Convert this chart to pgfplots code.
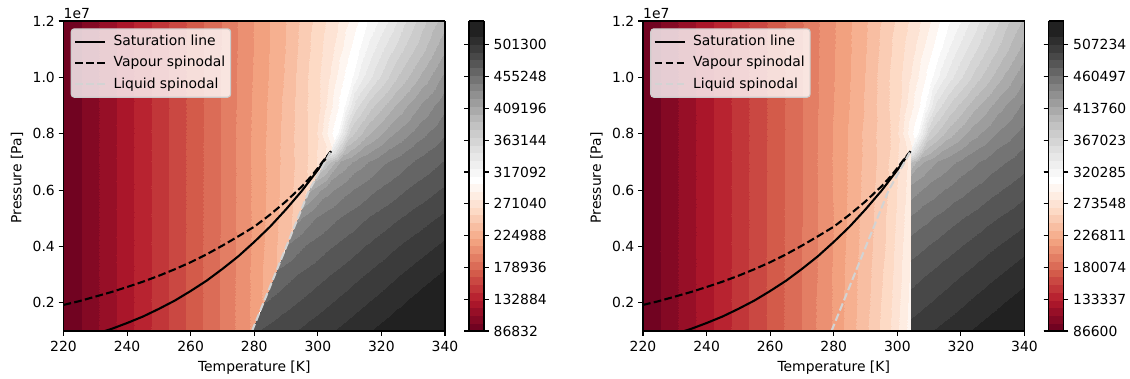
\documentclass[border=0pt]{standalone}
\usepackage{fontspec}
\setmainfont{DejaVu Sans}
\usepackage{pgfplots}
\usepackage{pgfplotstable}
\pgfplotsset{compat=1.18}
\newcommand{\fs}{\fontsize{13.9pt}{16.7pt}\selectfont}
\definecolor{lgray}{RGB}{211,211,211}
\definecolor{legedge}{RGB}{204,204,204}

\pgfplotsset{colormap={rdgy}{
rgb255=(113,3,33) rgb255=(132,9,36) rgb255=(151,15,39) rgb255=(170,22,42)
rgb255=(184,35,48) rgb255=(193,54,57) rgb255=(202,72,66) rgb255=(211,91,74)
rgb255=(219,108,87) rgb255=(227,126,100) rgb255=(235,144,114) rgb255=(242,161,127)
rgb255=(246,176,144) rgb255=(248,190,162) rgb255=(250,204,180) rgb255=(253,218,197)
rgb255=(253,227,212) rgb255=(254,237,226) rgb255=(254,246,241) rgb255=(255,255,255)
rgb255=(247,247,247) rgb255=(239,239,239) rgb255=(231,231,231) rgb255=(223,223,223)
rgb255=(213,213,213) rgb255=(204,204,204) rgb255=(194,194,194) rgb255=(183,183,183)
rgb255=(170,170,170) rgb255=(157,157,157) rgb255=(144,144,144) rgb255=(130,130,130)
rgb255=(116,116,116) rgb255=(101,101,101) rgb255=(86,86,86) rgb255=(72,72,72)
rgb255=(59,59,59) rgb255=(46,46,46) rgb255=(33,33,33) rgb255=(33,33,33)}}

% enthalpy field (kJ/kg), T [K], p [1e7 Pa]; 13 rows x 12 columns
\pgfplotstableread{
T p h
220 0.1 86.83
250 0.1 148.0
270 0.1 189.5
274.19 0.1 200.0
277.44 0.1 207.6
279.25 0.1 211.8
279.35 0.1 477.8
286.58 0.1 484.8
296.30 0.1 494.0
309.65 0.1 506.8
324.83 0.1 521.3
340 0.1 535.84
220 0.2 86.83
250 0.2 148.0
270 0.2 189.4
275.81 0.2 203.7
280.32 0.2 214.2
282.85 0.2 222.5
282.95 0.2 468.2
289.75 0.2 475.9
298.89 0.2 485.4
311.45 0.2 498.0
325.73 0.2 512.0
340 0.2 525.8
220 0.3 86.83
250 0.3 148.0
270 0.3 189.3
277.43 0.3 207.0
283.20 0.3 223.1
286.45 0.3 232.0
286.55 0.3 459.6
292.92 0.3 467.9
301.48 0.3 477.4
313.25 0.3 489.6
326.63 0.3 502.8
340 0.3 515.6
220 0.4 86.83
250 0.4 148.0
270 0.4 189.2
279.05 0.4 210.2
286.08 0.4 230.2
290.05 0.4 240.6
290.15 0.4 446.7
296.09 0.4 457.4
304.07 0.4 467.7
315.05 0.4 480.1
327.53 0.4 492.9
340 0.4 504.8
220 0.5 86.83
250 0.5 148.0
270 0.5 189.1
280.67 0.5 214.0
288.96 0.5 236.8
293.65 0.5 249.0
293.75 0.5 431.9
299.26 0.5 445.9
306.66 0.5 457.2
316.85 0.5 469.9
328.43 0.5 482.3
340 0.5 493.6
220 0.6 86.83
250 0.6 148.0
270 0.6 189.0
282.29 0.6 218.5
291.84 0.6 243.1
297.25 0.6 258.5
297.35 0.6 409.7
302.42 0.6 429.9
309.26 0.6 443.3
318.65 0.6 457.3
329.33 0.6 470.4
340 0.6 481.8
220 0.7 86.83
250 0.7 148.0
270 0.7 188.9
284.54 0.7 224.2
295.84 0.7 252.2
302.25 0.7 277.0
302.35 0.7 378.0
306.82 0.7 413.3
312.86 0.7 429.6
321.15 0.7 445.0
330.58 0.7 458.4
340 0.7 469.6
220 0.7377 86.83
250 0.7377 148.0
270 0.7377 188.9
285.36 0.7377 225.9
297.30 0.7377 256.4
304.08 0.7377 284.5
304.18 0.7377 332.0
308.43 0.7377 395.2
314.17 0.7377 417.1
322.07 0.7377 436.2
331.03 0.7377 452.1
340 0.7377 464.8
220 0.8 86.83
250 0.8 148.0
270 0.8 188.8
286.20 0.8 227.5
298.80 0.8 260.7
305.95 0.8 310.5
306.05 0.8 311.2
310.08 0.8 373.4
315.52 0.8 398.6
323.00 0.8 421.5
331.50 0.8 440.9
340 0.8 456.8
220 0.9 86.83
250 0.9 148.0
270 0.9 188.7
287.24 0.9 229.0
300.64 0.9 266.6
308.25 0.9 310.8
308.35 0.9 311.0
312.10 0.9 352.3
317.18 0.9 376.8
324.15 0.9 401.5
332.08 0.9 424.2
340 0.9 443.6
220 1.0 86.83
250 1.0 148.0
270 1.0 188.6
288.27 1.0 230.4
302.48 1.0 272.3
310.55 1.0 311.0
310.65 1.0 311.2
314.13 1.0 332.8
318.83 1.0 353.9
325.30 1.0 379.2
332.65 1.0 404.0
340 1.0 427.5
220 1.1 86.83
250 1.1 148.0
270 1.1 188.5
289.35 1.1 231.8
304.40 1.1 275.0
312.95 1.1 311.0
313.05 1.1 311.2
316.24 1.1 326.5
320.56 1.1 344.3
326.50 1.1 366.0
333.25 1.1 388.5
340 1.1 411.0
220 1.2 86.83
250 1.2 148.0
270 1.2 188.4
290.50 1.2 234.4
306.40 1.2 276.9
315.45 1.2 310.3
315.55 1.2 311.0
318.44 1.2 320.3
322.36 1.2 335.0
327.75 1.2 356.5
333.90 1.2 378.5
340 1.2 397.0
}\meshA

% liquid extension up to the critical temperature (right panel); 8 rows x 4 columns
\pgfplotstableread{
T p h
279.25 0.1 211.8
289.18 0.1 241.3
297.83 0.1 268.5
304.00 0.1 296.6
282.85 0.2 222.5
291.34 0.2 246.4
298.73 0.2 270.4
304.00 0.2 294.6
286.45 0.3 232.0
293.50 0.3 251.3
299.63 0.3 272.7
304.00 0.3 292.6
290.05 0.4 240.6
295.66 0.4 256.1
300.53 0.4 275.1
304.00 0.4 290.6
293.65 0.5 249.0
297.82 0.5 262.0
301.43 0.5 277.2
304.00 0.5 288.6
297.25 0.6 258.5
299.98 0.6 269.1
302.33 0.6 279.2
304.00 0.6 286.6
302.25 0.7 277.0
302.98 0.7 280.1
303.58 0.7 282.7
304.00 0.7 284.6
303.90 0.7377 283.4
303.95 0.7377 283.6
303.98 0.7377 283.8
304.00 0.7377 283.85
}\meshB

\pgfplotsset{
 myax/.style={
  view={0}{90}, scale only axis, width=381.5pt, height=310pt,
  xmin=220, xmax=340, ymin=0.1, ymax=1.2, zmin=0, zmax=600,
  enlargelimits=false, axis on top, clip mode=individual,
  xtick={220,240,...,340}, xticklabels={220,240,260,280,300,320,340},
  ytick={0.2,0.4,0.6,0.8,1.0,1.2}, yticklabels={0.2,0.4,0.6,0.8,1.0,1.2},
  ztick=\empty,
  tick pos=left, tick align=outside, major tick length=4.9pt,
  tick style={black, line width=1.1pt},
  axis line style={line width=1.1pt},
  xticklabel style={font=\fs, inner sep=0pt, anchor=north, yshift=-4.6pt},
  yticklabel style={font=\fs, inner sep=0pt, anchor=east, xshift=-3.6pt},
  colormap name=rdgy, colormap access=piecewise constant,
  colorbar, colorbar shift/.style={},
  legend cell align=left,
  legend image code/.code={\draw[##1] (0pt,0pt) -- (30pt,0pt);},
  legend style={at={(0.0189,0.9765)}, anchor=north west, font=\fs,
    fill=white, fill opacity=0.8, text opacity=1, draw=legedge, draw opacity=1,
    line width=1.1pt, rounded corners=3pt, inner xsep=2.8pt, inner ysep=3.5pt,
    column sep=5pt, row sep=2.5pt,
    nodes={inner sep=2.5pt, text height=10.6pt, text depth=3.2pt}},
 },
 mycb/.style={
  at={(parent axis.north east)}, anchor=north west, xshift=24pt,
  width=15pt,
  yticklabel style={font=\fs, inner sep=0pt, anchor=west, xshift=4.6pt},
  major tick length=4.9pt, tick align=outside,
  tick style={black, line width=1.1pt}, axis line style={line width=1.1pt},
 },
 sat/.style={black, line width=2.08pt},
 vsp/.style={black, line width=2.08pt, dash pattern=on 7.7pt off 3.33pt},
 lsp/.style={lgray, line width=2.08pt, dash pattern=on 7.7pt off 3.33pt},
}

\newcommand{\curves}{%
\addplot3[sat] coordinates {(233.03,0.1,0) (235,0.107,0) (240,0.12825,0) (245,0.1513,0) (250,0.1785,0) (255,0.2078,0) (260,0.24188,0) (265,0.2784,0) (270,0.32033,0) (275,0.3651,0) (280,0.41607,0) (285,0.4704,0) (290,0.53177,0) (295,0.5975,0) (300,0.67131,0) (302,0.704,0) (304.13,0.73773,0)};
\addlegendentry{Saturation line}
\addplot3[vsp] coordinates {(220,0.1925,0) (225,0.206,0) (230,0.222,0) (235,0.238,0) (240,0.256,0) (245,0.275,0) (250,0.296,0) (255,0.319,0) (260,0.344,0) (265,0.372,0) (270,0.403,0) (275,0.436,0) (280,0.470,0) (285,0.513,0) (290,0.560,0) (295,0.613,0) (298,0.650,0) (300,0.678,0) (302,0.708,0) (304.13,0.7377,0)};
\addlegendentry{Vapour spinodal}
\addplot3[lsp] coordinates {(279.3,0.1,0) (282.9,0.2,0) (286.5,0.3,0) (290.1,0.4,0) (293.7,0.5,0) (297.3,0.6,0) (299.8,0.65,0) (302.3,0.7,0) (304.13,0.7377,0)};
\addlegendentry{Liquid spinodal}
}

\begin{document}
\begin{tikzpicture}
\useasboundingbox (-63.5pt,-48pt) rectangle (1066.5pt,331pt);
\begin{axis}[myax, at={(0pt,0pt)}, anchor=south west,
  point meta min=86.832, point meta max=535.839,
  colorbar style={mycb,
    ytick={86.832,132.884,178.936,224.988,271.040,317.092,363.144,409.196,455.248,501.300},
    yticklabels={86832,132884,178936,224988,271040,317092,363144,409196,455248,501300}}]
\addplot3[surf, shader=interp, mesh/cols=12, point meta=explicit, forget plot]
  table[x=T, y=p, z=h, meta=h] {\meshA};
\curves
\end{axis}
\node[font=\fs, anchor=base west, inner sep=0pt] at (0pt,312.7pt) {1e7};
\node[font=\fs, rotate=90] at (-46.5pt,153pt) {Pressure [Pa]};
\node[font=\fs, anchor=base] at (190.75pt,-41pt) {Temperature [K]};

\begin{axis}[myax, at={(579.5pt,0pt)}, anchor=south west,
  point meta min=86.600, point meta max=542.286,
  colorbar style={mycb,
    ytick={86.600,133.337,180.074,226.811,273.548,320.285,367.023,413.760,460.497,507.234},
    yticklabels={86600,133337,180074,226811,273548,320285,367023,413760,460497,507234}}]
\addplot3[surf, shader=interp, mesh/cols=12, point meta=explicit, forget plot]
  table[x=T, y=p, z=h, meta=h] {\meshA};
\addplot3[surf, shader=interp, mesh/cols=4, point meta=explicit, forget plot]
  table[x=T, y=p, z=h, meta=h] {\meshB};
\curves
\end{axis}
\node[font=\fs, anchor=base west, inner sep=0pt] at (579.5pt,312.7pt) {1e7};
\node[font=\fs, rotate=90] at (533pt,153pt) {Pressure [Pa]};
\node[font=\fs, anchor=base] at (770.25pt,-41pt) {Temperature [K]};
\end{tikzpicture}
\end{document}
